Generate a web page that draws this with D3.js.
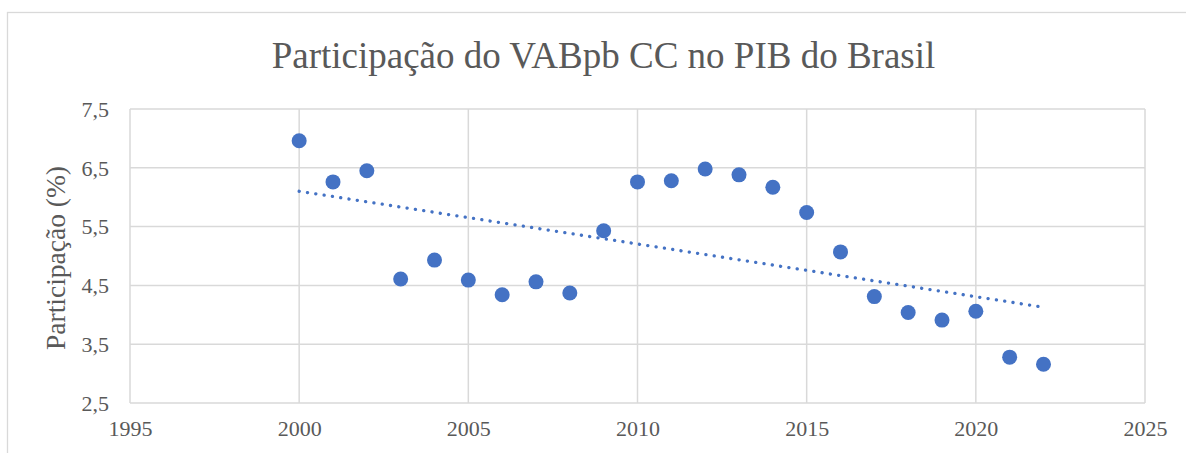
<!DOCTYPE html>
<html><head><meta charset="utf-8">
<script src="https://cdn.jsdelivr.net/npm/d3@7"></script>
<style>body{margin:0;background:#fff}svg{display:block}</style>
</head><body>
<svg id="c" width="1186" height="453"></svg>
<script>
const years = [2000,2001,2002,2003,2004,2005,2006,2007,2008,2009,2010,2011,2012,2013,2014,2015,2016,2017,2018,2019,2020,2021,2022];
const values = [6.96,6.26,6.45,4.61,4.93,4.59,4.34,4.56,4.37,5.43,6.26,6.28,6.48,6.38,6.17,5.74,5.07,4.31,4.04,3.91,4.06,3.28,3.16];
const xTicks = [1995,2000,2005,2010,2015,2020,2025];
const yTicks = [2.5,3.5,4.5,5.5,6.5,7.5];
const title = "Participação do VABpb CC no PIB do Brasil";
const yLabel = "Participação (%)";

const svg = d3.select("#c");
const font = "'Liberation Serif','Times New Roman',serif";
const grid = "#d9d9d9", txt = "#595959", blue = "#4472C4";

svg.append("rect").attr("x",7.5).attr("y",12.5).attr("width",1190).attr("height",460)
  .attr("fill","#fff").attr("stroke",grid).attr("stroke-width",1.3);

const L=130, R=1145, T=109, B=403;
const x = d3.scaleLinear().domain([1995,2025]).range([L,R]);
const y = d3.scaleLinear().domain([2.5,7.5]).range([B,T]);

const g = svg.append("g");
g.selectAll(".hg").data(yTicks).join("line")
  .attr("x1",L).attr("x2",R).attr("y1",d=>y(d)).attr("y2",d=>y(d))
  .attr("stroke",grid).attr("stroke-width",1.5);
g.selectAll(".vg").data(xTicks).join("line")
  .attr("y1",T).attr("y2",B).attr("x1",d=>x(d)).attr("x2",d=>x(d))
  .attr("stroke",grid).attr("stroke-width",1.5);

const xAxis = svg.append("g").attr("transform",`translate(0,${B})`)
  .call(d3.axisBottom(x).tickValues(xTicks).tickFormat(d3.format("d")).tickSize(0).tickPadding(15));
const yAxis = svg.append("g").attr("transform",`translate(${L},0)`)
  .call(d3.axisLeft(y).tickValues(yTicks).tickFormat(d=>d.toFixed(1).replace(".",",")).tickSize(0).tickPadding(21));
[xAxis,yAxis].forEach(a=>{
  a.select(".domain").remove();
  a.selectAll("text").attr("font-family",font).attr("font-size",22).attr("fill",txt);
});
yAxis.selectAll("text").attr("dy","0.33em");
xAxis.selectAll("text").attr("dy","0.8em");

// trendline via least squares
const n = years.length;
const mx = d3.mean(years), my = d3.mean(values);
const slope = d3.sum(years.map((v,i)=>(v-mx)*(values[i]-my))) / d3.sum(years.map(v=>(v-mx)*(v-mx)));
const icp = my - slope*mx;
const tx = [years[0], years[n-1]];
svg.append("line")
  .attr("x1",x(tx[0])).attr("y1",y(icp+slope*tx[0]))
  .attr("x2",x(tx[1])).attr("y2",y(icp+slope*tx[1]))
  .attr("stroke",blue).attr("stroke-width",3.3).attr("stroke-linecap","round")
  .attr("stroke-dasharray","0.1 8.3");

svg.selectAll("circle.pt").data(years).join("circle")
  .attr("cx",d=>x(d)).attr("cy",(d,i)=>y(values[i])).attr("r",7.5).attr("fill",blue);

svg.append("text").attr("x",(L+R)/2+ -34).attr("y",68).attr("text-anchor","middle")
  .attr("font-family",font).attr("font-size",37).attr("fill",txt).text(title);

svg.append("text").attr("transform",`translate(65,258) rotate(-90)`).attr("text-anchor","middle")
  .attr("font-family",font).attr("font-size",27.5).attr("fill",txt).text(yLabel);
</script>
</body></html>
